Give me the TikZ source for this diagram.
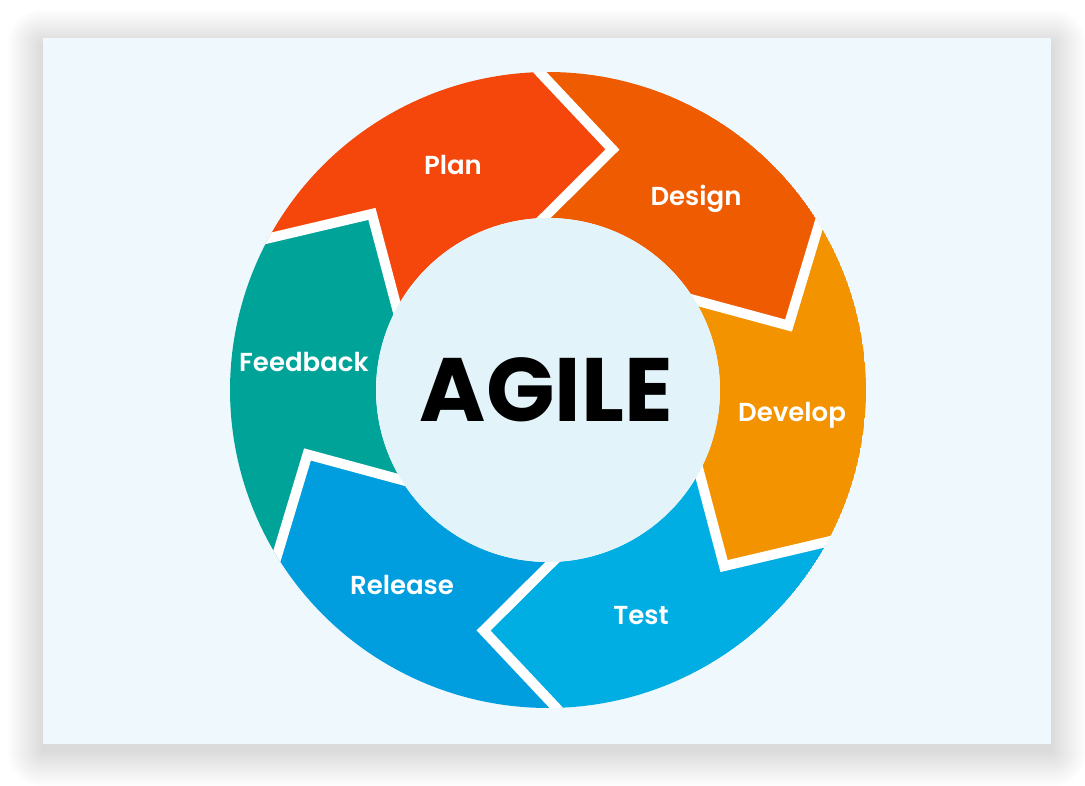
\documentclass[tikz,border=0pt]{standalone}
\usepackage{fontspec}
\setmainfont{Poppins}
\newfontfamily\labfont{Poppins}[UprightFont=* SemiBold]
\usetikzlibrary{calc}
\definecolor{bgc}{HTML}{EEF8FD}
\definecolor{innerc}{HTML}{E2F4FA}
\definecolor{cplan}{HTML}{F5470C}
\definecolor{cdesign}{HTML}{EE5B00}
\definecolor{cdevelop}{HTML}{F49300}
\definecolor{ctest}{HTML}{00AEE3}
\definecolor{crelease}{HTML}{009DDF}
\definecolor{cfeedback}{HTML}{00A397}
\tikzset{
  lab/.style={text=white, font=\labfont\fontsize{26}{30}\selectfont, anchor=base, inner sep=0pt},
  gapline/.style={white, line width=10pt, line join=miter},
}
\begin{document}
\begin{tikzpicture}[x=1pt,y=1pt]
\useasboundingbox (0,0) rectangle (1085,785);
\fill[white] (0,0) rectangle (1085,785);
\foreach \i in {1,...,36} {
  \fill[black, opacity=0.005, rounded corners=\i pt] (43-\i,34-\i) rectangle (1051+\i,740+\i);
}
\fill[bgc] (43,41) rectangle (1051,747);
\begin{scope}[shift={(548,395)}]
  \begin{scope}
    \clip (0,0) circle (318);
    \foreach \T/\col in {151.5/cplan, 91.5/cdesign, 31.5/cdevelop, -28.5/ctest, -88.5/crelease, -148.5/cfeedback} {
      \fill[\col] (\T:318) arc[start angle=\T, end angle=\T-60, radius=318]
        -- (\T-76.5:249) -- (\T-60:172)
        arc[start angle=\T-60, end angle=\T, radius=172]
        -- (\T-16.5:249) -- cycle;
    }
    \foreach \B in {151.5, 91.5, 31.5, -28.5, -88.5, -148.5} {
      \draw[gapline] ($(\B-16.5:249)!1.4!(\B:318)$) -- (\B-16.5:249) -- ($(\B-16.5:249)!1.4!(\B:172)$);
    }
  \end{scope}
  \fill[innerc] (0,0) circle (172);
\end{scope}
\node[lab] (plan) at (453,610) {Plan};
\node[lab] (design) at (696,579) {Design};
\node[lab] (develop) at (792,363) {Develop};
\node[lab] (test) at (641,160) {Test};
\node[lab] (release) at (402,190) {Release};
\node[lab] (feedback) at (304,413) {Feedback};
\node[anchor=base, inner sep=0pt, font=\bfseries\fontsize{90}{100}\selectfont] (agile) at (546.5,363) {AGILE};
\end{tikzpicture}
\end{document}
